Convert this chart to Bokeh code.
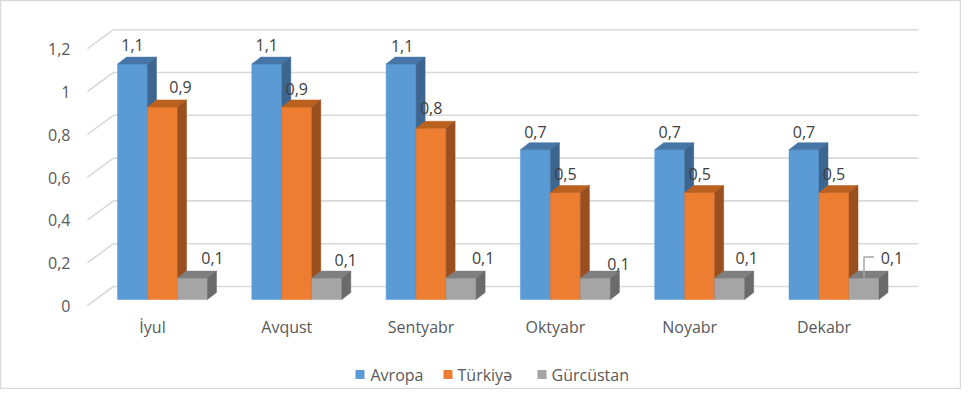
from bokeh.plotting import figure
from bokeh.models import Range1d, ColumnDataSource
from bokeh.embed import file_html
from bokeh.resources import INLINE
from bokeh.core.properties import value

# ---------------- data ----------------
categories = ["İyul", "Avqust", "Sentyabr", "Oktyabr", "Noyabr", "Dekabr"]
series_names = ["Avropa", "Türkiyə", "Gürcüstan"]
avropa = [1.1, 1.1, 1.1, 0.7, 0.7, 0.7]
turkiye = [0.9, 0.9, 0.8, 0.5, 0.5, 0.5]
gurcustan = [0.1, 0.1, 0.1, 0.1, 0.1, 0.1]
y_ticks = [0, 0.2, 0.4, 0.6, 0.8, 1.0, 1.2]
y_tick_labels = ["0", "0,2", "0,4", "0,6", "0,8", "1", "1,2"]

# ---------------- styles ----------------
front_colors = ["#5b9bd5", "#ed7d31", "#a5a5a5"]
top_colors = ["#4676a5", "#bb6120", "#7f7f7f"]
side_colors = ["#3c6590", "#9a4f1f", "#6b6b6b"]
FONT = "Open Sans"
TXT = "#595959"
LBL = "#404040"
GRID = "#d9d9d9"

# label offsets in px relative to the bar's front-top centre
label_dx = [[0, 0, 1, 0, 0, 0], [18, 0, 0, 0, 0, 0], [20, 19, 22, 23, 17, 28]]
label_dy = [[-19, -19, -18, -18, -18, -18], [-20, -18, -20, -19, -19, -19],
            [-20, -18, -20, -14, -20, -20]]

# pixel geometry helpers (figure pixels)
PX = 134.3   # px per category
PY = 214.0   # px per value unit
X0 = 162.0   # x of category 0 centre
Y0 = 299.0   # y of value 0 (bar front base)


def xw(px):
    return (px - X0) / PX


def yw(py):
    return (Y0 - py) / PY


BAR_W = 30 / PX
DX = 9 / PX
DY = 7 / PY

W, H = 961, 389
p = figure(width=W, height=H, output_backend="svg", toolbar_location=None,
           x_range=Range1d(xw(0), xw(W)), y_range=Range1d(yw(H), yw(0)),
           x_axis_location=None, y_axis_location=None, min_border=0)
p.grid.visible = False
p.outline_line_color = GRID
p.outline_line_width = 1.5
p.background_fill_color = "white"
p.border_fill_color = "white"

# ---------------- walls / gridlines ----------------
back = [t + 13 / PY for t in y_ticks]
front = [t - 6 / PY for t in y_ticks]
p.segment(x0=[xw(113)] * len(y_ticks), y0=back, x1=[xw(918)] * len(y_ticks), y1=back,
          line_color=GRID, line_width=1.6)
p.segment(x0=[xw(87)] * len(y_ticks), y0=front, x1=[xw(113)] * len(y_ticks), y1=back,
          line_color=GRID, line_width=1.6)

# y tick labels
p.text(x=[xw(70)] * len(y_ticks), y=[f - 0.5 / PY for f in front], text=y_tick_labels,
       text_font=value(FONT), text_font_size="16px", text_color=TXT,
       text_align="right", text_baseline="middle")

# ---------------- bars ----------------
series = [avropa, turkiye, gurcustan]
for s, vals in enumerate(series):
    L = [i - 45 / PX + s * BAR_W for i in range(len(categories))]
    R = [l + BAR_W for l in L]
    src = ColumnDataSource(dict(left=L, right=R, top=vals, bottom=[0] * len(vals)))
    p.quad(left="left", right="right", top="top", bottom="bottom", source=src,
           fill_color=front_colors[s], line_color=front_colors[s], line_width=0.5)
    top_xs = [[l, r, r + DX, l + DX] for l, r in zip(L, R)]
    top_ys = [[v, v, v + DY, v + DY] for v in vals]
    p.patches(xs=top_xs, ys=top_ys, fill_color=top_colors[s], line_color=top_colors[s],
              line_width=0.5)
    side_xs = [[r, r + DX, r + DX, r] for r in R]
    side_ys = [[0, DY, v + DY, v] for v in vals]
    p.patches(xs=side_xs, ys=side_ys, fill_color=side_colors[s], line_color=side_colors[s],
              line_width=0.5)

# ---------------- data labels ----------------
for s, vals in enumerate(series):
    cx = [i - 45 / PX + s * BAR_W + BAR_W / 2 + label_dx[s][i] / PX for i in range(len(vals))]
    cy = [v - label_dy[s][i] / PY for i, v in enumerate(vals)]
    txt = [("%g" % v).replace(".", ",") for v in vals]
    p.text(x=cx, y=cy, text=txt, text_font=value(FONT), text_font_size="16px",
           text_color=LBL, text_align="center", text_baseline="middle")

# leader line for the last grey label
gx = 5 - 45 / PX + 2 * BAR_W + BAR_W / 2
gv = gurcustan[5]
p.line(x=[gx, gx, gx + 10 / PX], y=[gv, gv + 21 / PY, gv + 21 / PY],
       line_color="#a6a6a6", line_width=1.5)

# ---------------- category labels ----------------
p.text(x=[i - 10 / PX for i in range(len(categories))], y=[yw(326)] * len(categories),
       text=categories, text_font=value(FONT), text_font_size="16px", text_color=TXT,
       text_align="center", text_baseline="middle")

# ---------------- legend ----------------
sq_px = [359.5, 447.5, 541.5]
tx_px = [370, 457, 551]
p.scatter(x=[xw(v) for v in sq_px], y=[yw(374)] * 3, marker="square", size=9,
          fill_color=front_colors, line_color=None)
p.text(x=[xw(v) for v in tx_px], y=[yw(374)] * 3, text=series_names,
       text_font=value(FONT), text_font_size="16px", text_color=TXT,
       text_align="left", text_baseline="middle")

open("out.html", "w").write(file_html(p, INLINE))
